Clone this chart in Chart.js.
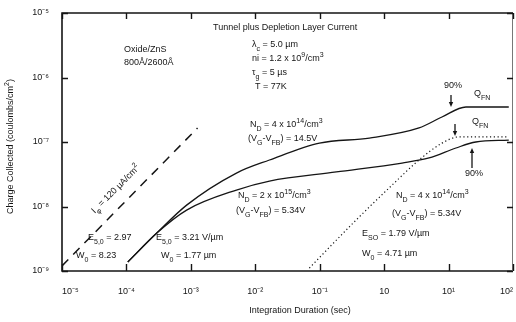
<!DOCTYPE html>
<html>
<head>
<meta charset="utf-8">
<script src="https://cdn.jsdelivr.net/npm/chart.js@4.4.0/dist/chart.umd.min.js"></script>
<style>
  html, body { margin: 0; padding: 0; background: #fff; }
</style>
</head>
<body>
<canvas id="chart" width="516" height="322"></canvas>
<script>
// axis decades and their printed labels
const xDecades = [1e-5, 1e-4, 1e-3, 1e-2, 1e-1, 1, 10, 100];
const xTickLabels = ['10⁻⁵', '10⁻⁴', '10⁻³', '10⁻²', '10⁻¹', '10', '10¹', '10²'];
const yDecades = [1e-9, 1e-8, 1e-7, 1e-6, 1e-5];
const yTickLabels = ['10⁻⁹', '10⁻⁸', '10⁻⁷', '10⁻⁶', '10⁻⁵'];

// tunnel current only, I = 120 uA/cm2 (dashed)
const dashT = [1e-5, 1.27e-3];
const dashQ = [1.2e-9, 1.65e-7];

// N_D = 4e14, (Vg-Vfb) = 14.5 V (upper solid)
const highT = [1.05e-4, 2.96e-4, 8.6e-4, 5.1e-3, 1.66e-2, 9.9e-2, 0.59, 3.48, 7.9, 18.6, 86];
const highQ = [1.38e-9, 3.88e-9, 1.05e-8, 3.3e-8, 5.26e-8, 9.6e-8, 1.15e-7, 1.65e-7, 2.44e-7, 3.49e-7, 3.49e-7];

// N_D = 2e15, (Vg-Vfb) = 5.34 V (lower solid)
const lowT = [1.05e-4, 2.96e-4, 8.6e-4, 5.1e-3, 1.66e-2, 0.181, 1.9, 4.98, 13.0, 26.5, 86];
const lowQ = [1.38e-9, 3.88e-9, 8.8e-9, 1.8e-8, 2.48e-8, 3.43e-8, 4.72e-8, 5.65e-8, 8.07e-8, 1.0e-7, 1.07e-7];

// N_D = 4e14, (Vg-Vfb) = 5.34 V (dotted)
const dotT = [0.069, 0.369, 1.33, 3.48, 7.9, 14.5, 86];
const dotQ = [1.11e-9, 6.2e-9, 2.15e-8, 5.26e-8, 9.6e-8, 1.2e-7, 1.2e-7];

const FONT = '"Liberation Sans", Arial, sans-serif';
const INK = '#151515';

const pts = (ts, qs) => ts.map((t, i) => ({ x: t, y: qs[i] }));

// text written on the plot, canvas px
const notes = [
    ['Tunnel plus Depletion Layer Current', 213, 28],
    ['Oxide/ZnS', 124, 50],
    ['800Å/2600Å', 124, 63],
    ['λ_{c} = 5.0 µm', 252, 45],
    ['ni = 1.2 x 10^{9}/cm^{3}', 252, 59],
    ['τ_{g} = 5 µs', 252, 73],
    ['T = 77K', 255, 87],
    ['N_{D} = 4 x 10^{14}/cm^{3}', 250, 125],
    ['(V_{G}-V_{FB}) = 14.5V', 248, 139],
    ['90%', 444, 86],
    ['Q_{FN}', 474, 94],
    ['Q_{FN}', 472, 122],
    ['90%', 465, 174],
    ['E_{5,0} = 2.97', 88, 238],
    ['W_{0} = 8.23', 76, 256],
    ['E_{5,0} = 3.21 V/µm', 156, 238],
    ['W_{0} = 1.77 µm', 161, 256],
    ['N_{D} = 2 x 10^{15}/cm^{3}', 238, 196],
    ['(V_{G}-V_{FB}) = 5.34V', 236, 211],
    ['N_{D} = 4 x 10^{14}/cm^{3}', 396, 196],
    ['(V_{G}-V_{FB}) = 5.34V', 392, 214],
    ['E_{SO} = 1.79 V/µm', 362, 234],
    ['W_{0} = 4.71 µm', 362, 254]
];

// arrows: x, from y, to y
const arrows = [
    [451, 95, 107],
    [455, 124, 136],
    [472, 168, 148]
];

function rich(ctx, str, x, y, size) {
    const re = /([_^])\{([^}]*)\}/g;
    let parts = [], last = 0, m;
    while ((m = re.exec(str))) {
        if (m.index > last) parts.push({ t: str.slice(last, m.index), k: '' });
        parts.push({ t: m[2], k: m[1] });
        last = re.lastIndex;
    }
    if (last < str.length) parts.push({ t: str.slice(last), k: '' });
    ctx.textAlign = 'left';
    let cx = x;
    for (const p of parts) {
        const fs = p.k ? size * 0.78 : size;
        ctx.font = `${fs}px ${FONT}`;
        const dy = p.k === '_' ? size * 0.4 : p.k === '^' ? -size * 0.4 : 0;
        ctx.fillText(p.t, cx, y + dy);
        cx += ctx.measureText(p.t).width;
    }
    return cx - x;
}

const decor = {
    id: 'decor',
    afterDatasetsDraw(chart) {
        const { ctx, chartArea: a, scales: { x, y } } = chart;
        ctx.save();
        ctx.strokeStyle = INK;
        ctx.fillStyle = INK;

        // frame
        ctx.lineWidth = 1.6;
        ctx.beginPath();
        ctx.moveTo(a.right, a.top);
        ctx.lineTo(a.left, a.top);
        ctx.lineTo(a.left, a.bottom);
        ctx.lineTo(a.right, a.bottom);
        ctx.stroke();
        ctx.strokeStyle = '#777';
        ctx.lineWidth = 1;
        ctx.beginPath();
        ctx.moveTo(a.right - 0.5, a.top);
        ctx.lineTo(a.right - 0.5, a.bottom);
        ctx.stroke();

        // inward tick marks
        ctx.strokeStyle = INK;
        ctx.lineWidth = 1.4;
        ctx.beginPath();
        xDecades.forEach(v => {
            const px = Math.round(x.getPixelForValue(v)) + 0.5;
            ctx.moveTo(px, a.bottom); ctx.lineTo(px, a.bottom - 7);
            ctx.moveTo(px, a.top); ctx.lineTo(px, a.top + 6);
        });
        yDecades.forEach(v => {
            const py = Math.round(y.getPixelForValue(v)) + 0.5;
            ctx.moveTo(a.left, py); ctx.lineTo(a.left + 6, py);
            ctx.moveTo(a.right, py); ctx.lineTo(a.right - 6, py);
        });
        ctx.stroke();

        // notes
        ctx.textBaseline = 'middle';
        notes.forEach(([s, nx, ny]) => rich(ctx, s, nx, ny, 9));

        // arrows
        ctx.lineWidth = 1.3;
        arrows.forEach(([ax, y0, y1]) => {
            const d = Math.sign(y1 - y0);
            ctx.beginPath();
            ctx.moveTo(ax, y0); ctx.lineTo(ax, y1 - d * 3);
            ctx.stroke();
            ctx.beginPath();
            ctx.moveTo(ax, y1);
            ctx.lineTo(ax - 2.2, y1 - d * 5);
            ctx.lineTo(ax + 2.2, y1 - d * 5);
            ctx.closePath();
            ctx.fill();
        });

        // rotated label beside the dashed line
        ctx.save();
        ctx.translate(93, 212);
        ctx.rotate(-Math.PI / 4);
        rich(ctx, 'I_{φ} = 120 µA/cm^{2}', 0, 0, 9);
        ctx.restore();

        // axis titles
        ctx.font = `9px ${FONT}`;
        ctx.textAlign = 'center';
        ctx.fillText('Integration Duration (sec)', 300, 311);
        ctx.save();
        ctx.translate(11, 214);
        ctx.rotate(-Math.PI / 2);
        rich(ctx, 'Charge Collected (coulombs/cm^{2})', 0, 0, 9);
        ctx.restore();

        ctx.restore();
    }
};

const ctx = document.getElementById('chart');

const data = {
    datasets: [
        { data: pts(dashT, dashQ), borderColor: INK, borderWidth: 1.5, borderDash: [9, 7], tension: 0 },
        { data: pts(highT, highQ), borderColor: INK, borderWidth: 1.3, cubicInterpolationMode: 'monotone' },
        { data: pts(lowT, lowQ), borderColor: INK, borderWidth: 1.3, cubicInterpolationMode: 'monotone' },
        { data: pts(dotT, dotQ), borderColor: INK, borderWidth: 1.2, borderDash: [1.2, 2.6], cubicInterpolationMode: 'monotone' }
    ]
};

const config = {
    type: 'line',
    data: data,
    options: {
        responsive: false,
        animation: false,
        parsing: false,
        elements: { point: { radius: 0 } },
        layout: { padding: { left: 0, right: 3, top: 13, bottom: 4 } },
        plugins: { legend: { display: false }, tooltip: { enabled: false } },
        scales: {
            x: {
                type: 'logarithmic', min: 1e-5, max: 100,
                grid: { display: false }, border: { display: false },
                afterBuildTicks: s => { s.ticks = xDecades.map(v => ({ value: v })); },
                ticks: {
                    callback: (v, i) => xTickLabels[i],
                    autoSkip: false, maxRotation: 0, padding: 7, align: 'inner',
                    color: INK, font: { family: FONT, size: 9 }
                },
                afterFit: s => { s.height = 47; s.paddingLeft = 0; s.paddingRight = 0; }
            },
            y: {
                type: 'logarithmic', min: 1e-9, max: 1e-5,
                grid: { display: false }, border: { display: false },
                afterBuildTicks: s => { s.ticks = yDecades.map(v => ({ value: v })); },
                ticks: {
                    callback: (v, i) => yTickLabels[i],
                    autoSkip: false, padding: 5,
                    color: INK, font: { family: FONT, size: 9 }
                },
                afterFit: s => { s.width = 62; s.paddingTop = 0; s.paddingBottom = 0; }
            }
        }
    },
    plugins: [decor]
};

const chart = new Chart(ctx, config);
</script>
</body>
</html>
